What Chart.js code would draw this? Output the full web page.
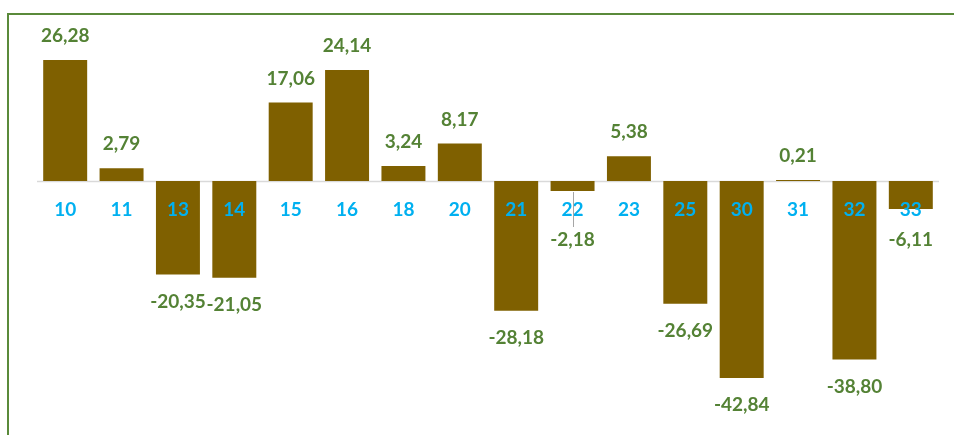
<!DOCTYPE html>
<html>
<head>
<meta charset="utf-8">
<script src="https://cdn.jsdelivr.net/npm/chart.js@4"></script>
<style>
  html, body { margin: 0; padding: 0; background: #fff; }
  #wrap { position: relative; width: 954px; height: 435px; }
  #frame { position: absolute; left: 7px; top: 13px; right: 0; bottom: 0;
           border-top: 2px solid #5A8A3A; border-left: 2px solid #5A8A3A; }
  canvas { position: absolute; left: 0; top: 0; }
</style>
</head>
<body>
<div id="wrap">
  <div id="frame"></div>
  <canvas id="chart" width="954" height="435"></canvas>
</div>
<script>
// categories and values
const weeks = ["10", "11", "13", "14", "15", "16", "18", "20", "21", "22", "23", "25", "30", "31", "32", "33"];
const changes = [26.28, 2.79, -20.35, -21.05, 17.06, 24.14, 3.24, 8.17, -28.18, -2.18, 5.38, -26.69, -42.84, 0.21, -38.80, -6.11];

const barColor = '#7F6000';
const valueColor = '#548235';
const catColor = '#00B0F0';
const labelFont = 'bold 19px Lato, "Open Sans", sans-serif';

const fmt = v => v.toFixed(2).replace('.', ',');

// zero line, week labels and value labels
const labelPlugin = {
  id: 'labels',
  beforeDatasetsDraw(chart) {
    const { ctx, chartArea, scales: { y } } = chart;
    const y0 = Math.round(y.getPixelForValue(0)) + 0.5;
    ctx.save();
    ctx.strokeStyle = '#D9D9D9';
    ctx.lineWidth = 1.5;
    ctx.beginPath();
    ctx.moveTo(chartArea.left, y0);
    ctx.lineTo(chartArea.right, y0);
    ctx.stroke();
    ctx.restore();
  },
  afterDatasetsDraw(chart) {
    const { ctx, scales: { x, y } } = chart;
    const y0 = y.getPixelForValue(0);
    const meta = chart.getDatasetMeta(0);
    ctx.save();
    ctx.font = labelFont;
    ctx.textAlign = 'center';
    ctx.textBaseline = 'middle';

    weeks.forEach((w, i) => {
      ctx.fillStyle = catColor;
      ctx.fillText(w, x.getPixelForValue(i), y0 + 29);
    });

    changes.forEach((v, i) => {
      const bar = meta.data[i];
      const cx = bar.x;
      let ly;
      if (v >= 0) {
        ly = bar.y - 24;
      } else {
        const natural = bar.y + 27;
        ly = Math.max(natural, y0 + 59);
        if (ly - natural > 15) {
          // leader line
          ctx.strokeStyle = '#A6A6A6';
          ctx.lineWidth = 1;
          ctx.beginPath();
          ctx.moveTo(Math.round(cx) + 0.5, bar.y + 1);
          ctx.lineTo(Math.round(cx) + 0.5, ly - 13);
          ctx.stroke();
        }
      }
      ctx.fillStyle = valueColor;
      ctx.fillText(fmt(v), cx, ly);
    });
    ctx.restore();
  }
};

new Chart(document.getElementById('chart'), {
  type: 'bar',
  data: {
    labels: weeks,
    datasets: [{
      data: changes,
      backgroundColor: barColor,
      borderWidth: 0,
      barPercentage: 0.78,
      categoryPercentage: 1
    }]
  },
  options: {
    responsive: false,
    animation: false,
    layout: { padding: { left: 37, right: 15, top: 43, bottom: 24 } },
    scales: {
      x: { display: false },
      y: { display: false, min: -50, max: 30 }
    },
    plugins: {
      legend: { display: false },
      tooltip: { enabled: false }
    }
  },
  plugins: [labelPlugin]
});
</script>
</body>
</html>
